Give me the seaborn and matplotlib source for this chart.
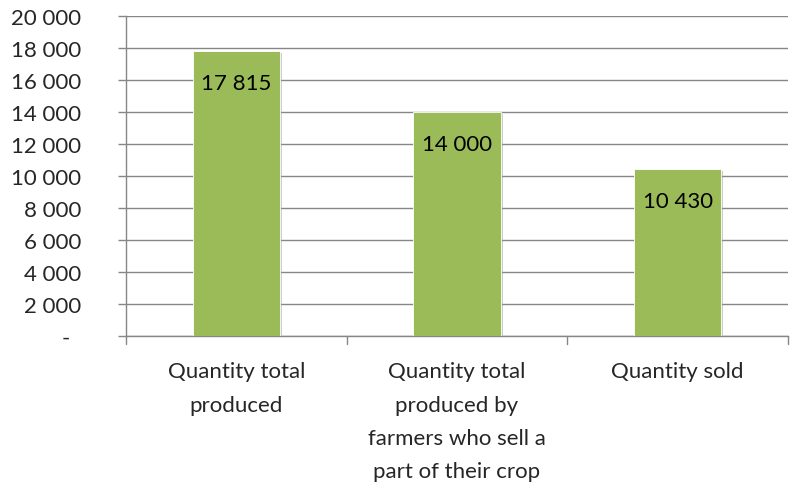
import matplotlib
matplotlib.use("Agg")
import matplotlib.pyplot as plt
import matplotlib.patheffects as pe
import seaborn as sns
import pandas as pd

categories = [
    "Quantity total\nproduced",
    "Quantity total\nproduced by\nfarmers who sell a\npart of their crop",
    "Quantity sold",
]
values = [17815, 14000, 10430]
y_ticks = [0, 2000, 4000, 6000, 8000, 10000, 12000, 14000, 16000, 18000, 20000]

sns.set_theme(style="white")
plt.rcParams["font.family"] = ["Lato", "DejaVu Sans"]

fig = plt.figure(figsize=(7.9, 4.85), dpi=100)
ax = fig.add_axes([0.1595, 0.3058, 0.838, 0.6586])

df = pd.DataFrame({"category": categories, "value": values})
sns.barplot(data=df, x="category", y="value", color="#9BBB59", saturation=1,
            width=0.395, ax=ax, zorder=3)

for bar in ax.patches:
    bar.set_edgecolor("#ffffff")
    bar.set_linewidth(0.6)
    bar.set_path_effects([pe.SimplePatchShadow(offset=(1.5, -1.5), shadow_rgbFace="#9a9a9a", alpha=0.5),
                          pe.Normal()])

def fmt(v):
    return "-  " if v == 0 else f"{v:,}".replace(",", " ")

for bar, v in zip(ax.patches, values):
    ax.annotate(fmt(v), (bar.get_x() + bar.get_width() / 2, v),
                xytext=(0, -23), textcoords="offset points",
                ha="center", va="center", fontsize=16, color="#000000", zorder=5)

ax.set_ylim(0, 20000)
ax.set_xlim(-0.5, 2.5)
ax.set_yticks(y_ticks)
ax.set_yticklabels([fmt(v) for v in y_ticks], fontsize=16)
ax.set_xlabel("")
ax.set_ylabel("")
ax.tick_params(axis="x", labelsize=16, length=0, pad=18.5)
ax.tick_params(axis="y", length=6, width=1, color="#868686", pad=26, direction="out", left=True)
for lbl in ax.get_xticklabels():
    lbl.set_linespacing(1.82)
    lbl.set_verticalalignment("top")

ax.yaxis.grid(True, color="#868686", linewidth=1)
ax.set_axisbelow(True)
for s in ["top", "right"]:
    ax.spines[s].set_visible(False)
for s in ["left", "bottom"]:
    ax.spines[s].set_color("#868686")
    ax.spines[s].set_linewidth(1)

# category separator ticks below the x-axis
for xb in [-0.5, 0.5, 1.5, 2.5]:
    ax.plot([xb, xb], [0, -520], color="#868686", linewidth=1, clip_on=False, zorder=2)

fig.savefig("out.png", dpi=100, facecolor="white")
